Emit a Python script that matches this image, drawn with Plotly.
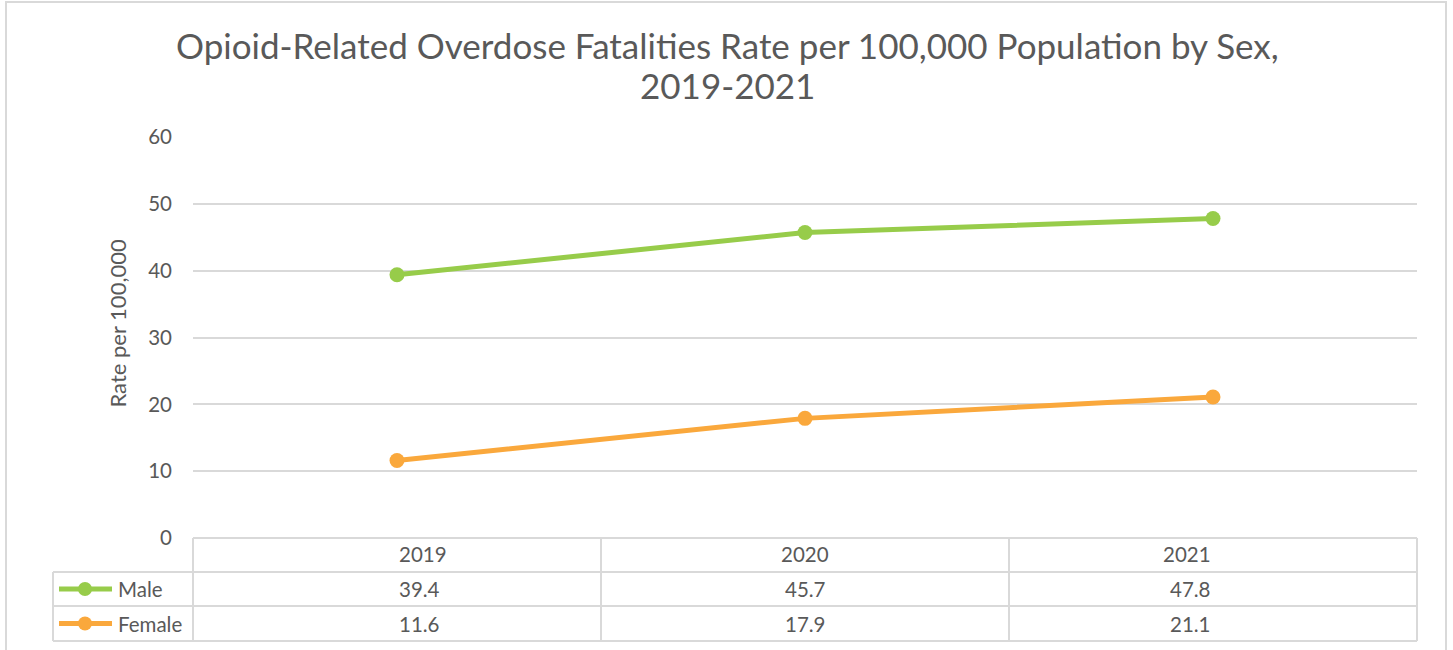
import plotly.graph_objects as go

# Opioid-related overdose fatality rates per 100,000 population, by sex
years = ["2019", "2020", "2021"]
male = [39.4, 45.7, 47.8]
female = [11.6, 17.9, 21.1]
series_names = ["Male", "Female"]
series_colors = ["#97CC4A", "#FAA83C"]
title_lines = ["Opioid-Related Overdose Fatalities Rate per 100,000 Population by Sex,",
               "2019-2021"]

W, H = 1453, 650
FONT = "Lato"
TEXT = "#595959"
GRID = "#D9D9D9"


def px(x):
    return x / W


def py(y):
    return 1 - y / H


# plot area in pixels
X0, X1 = 193, 1417
Y0, Y1 = 137, 538

fig = go.Figure()
for name, vals, col in zip(series_names, [male, female], series_colors):
    fig.add_trace(go.Scatter(
        x=list(range(len(years))), y=vals, name=name, mode="lines+markers",
        line=dict(color=col, width=5), marker=dict(color=col, size=15),
        showlegend=False, hoverinfo="x+y",
    ))

shapes = []
# outer chart border
shapes.append(dict(type="rect", xref="paper", yref="paper",
                   x0=px(6), x1=px(1446), y0=py(670), y1=py(2),
                   line=dict(color=GRID, width=2)))

# data table grid
row_tops = [538, 572, 606, 641]
col_edges = [193, 601, 1009, 1417]
TL = 53
line_style = dict(color=GRID, width=2)
shapes.append(dict(type="line", xref="paper", yref="paper",
                   x0=px(X0), x1=px(X1), y0=py(538), y1=py(538), line=line_style))
for yy in row_tops[1:]:
    shapes.append(dict(type="line", xref="paper", yref="paper",
                       x0=px(TL), x1=px(X1), y0=py(yy), y1=py(yy), line=line_style))
for xx in col_edges:
    shapes.append(dict(type="line", xref="paper", yref="paper",
                       x0=px(xx), x1=px(xx), y0=py(538), y1=py(row_tops[-1]), line=line_style))
shapes.append(dict(type="line", xref="paper", yref="paper",
                   x0=px(TL), x1=px(TL), y0=py(row_tops[1]), y1=py(row_tops[-1]),
                   line=line_style))

CELL_FONT = dict(family=FONT, size=20.5, color=TEXT)
annotations = []
# column headers
for i, yr in enumerate(years):
    cx = (col_edges[i] + col_edges[i + 1]) / 2
    annotations.append(dict(x=px(cx), y=py(554), xref="paper", yref="paper",
                            yanchor="middle", text=yr, showarrow=False, font=CELL_FONT))
# series rows with legend keys
for r, (name, vals, col) in enumerate(zip(series_names, [male, female], series_colors)):
    ymid = (row_tops[r + 1] + row_tops[r + 2]) / 2
    shapes.append(dict(type="line", xref="paper", yref="paper",
                       x0=px(59), x1=px(112), y0=py(ymid), y1=py(ymid),
                       line=dict(color=col, width=5)))
    shapes.append(dict(type="circle", xref="paper", yref="paper",
                       x0=px(78), x1=px(92), y0=py(ymid + 7), y1=py(ymid - 7),
                       fillcolor=col, line=dict(color=col, width=0)))
    annotations.append(dict(x=px(116), y=py(ymid), xref="paper", yref="paper",
                            xanchor="left", yanchor="middle", text=name,
                            showarrow=False, font=CELL_FONT))
    for i, v in enumerate(vals):
        cx = (col_edges[i] + col_edges[i + 1]) / 2
        annotations.append(dict(x=px(cx), y=py(ymid), xref="paper", yref="paper",
                                yanchor="middle", text=f"{v:.1f}", showarrow=False,
                                font=CELL_FONT))

# y-axis title
annotations.append(dict(x=px(101), y=py(324), xref="paper", yref="paper",
                        text="Rate per 100,000", textangle=-90, showarrow=False,
                        font=dict(family=FONT, size=22, color=TEXT)))

# chart title, two centred lines
for line, yc in zip(title_lines, [45, 85]):
    annotations.append(dict(x=px(727), y=py(yc), xref="paper", yref="paper",
                            xanchor="center", yanchor="middle", text=line,
                            showarrow=False,
                            font=dict(family=FONT, size=35, color=TEXT)))

fig.update_layout(
    width=W, height=H,
    margin=dict(l=0, r=0, t=0, b=0),
    paper_bgcolor="white", plot_bgcolor="white",
    xaxis=dict(domain=[px(X0), px(X1)], range=[-0.5, 2.5], automargin=False,
               showgrid=False, showticklabels=False, zeroline=False,
               showline=False, fixedrange=True),
    yaxis=dict(domain=[py(Y1), py(Y0)], range=[0, 60], dtick=10, automargin=False,
               showgrid=True, gridcolor=GRID, gridwidth=2, zeroline=False,
               showline=False, ticks="", ticklabelstandoff=20,
               tickfont=dict(family=FONT, size=20.5, color=TEXT), fixedrange=True),
    shapes=shapes,
    annotations=annotations,
)

fig.write_html("out.html")
